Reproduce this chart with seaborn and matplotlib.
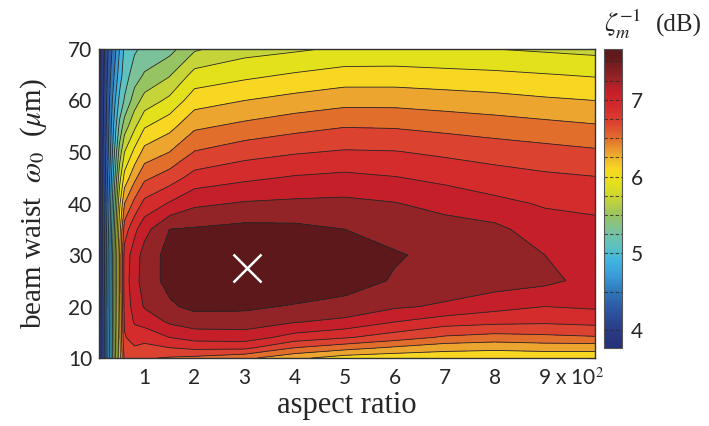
import numpy as np
import matplotlib
matplotlib.use("Agg")
import matplotlib.pyplot as plt
from matplotlib.colors import LinearSegmentedColormap, Normalize
from matplotlib.cm import ScalarMappable
from matplotlib.transforms import offset_copy
import seaborn as sns

# aspect ratio (in units of 10^2) and beam waist (um) of the sampling grid
aspect_ratio = [0.1, 0.2, 0.3, 0.4, 0.5, 0.6, 0.8, 1, 1.5, 2, 3, 4, 5, 6, 7, 8, 9, 10]
beam_waist = [10, 12, 14, 17, 20, 25, 30, 35, 40, 45, 50, 55, 60, 65, 70]

# inverse loss zeta_m^-1 in dB, one row per beam waist, one column per aspect ratio
zeta_db = [
    [3.80, 4.22, 4.78, 5.45, 6.10, 6.65, 6.65, 6.62, 6.58, 6.55, 6.45, 6.25, 6.10, 6.06, 6.06, 6.06, 6.06, 6.06],
    [3.79, 4.22, 4.78, 5.47, 6.12, 6.72, 6.78, 6.74, 6.80, 6.85, 6.85, 6.60, 6.48, 6.37, 6.28, 6.25, 6.28, 6.28],
    [3.78, 4.22, 4.78, 5.48, 6.14, 6.78, 6.90, 6.88, 7.00, 7.08, 7.10, 6.92, 6.82, 6.70, 6.57, 6.52, 6.55, 6.58],
    [3.78, 4.22, 4.77, 5.50, 6.16, 6.83, 7.02, 7.07, 7.23, 7.30, 7.30, 7.21, 7.15, 7.00, 6.89, 6.85, 6.83, 6.86],
    [3.77, 4.22, 4.76, 5.50, 6.18, 6.87, 7.08, 7.22, 7.37, 7.45, 7.44, 7.38, 7.33, 7.23, 7.17, 7.07, 7.00, 7.03],
    [3.77, 4.20, 4.75, 5.50, 6.20, 6.90, 7.12, 7.30, 7.46, 7.56, 7.65, 7.58, 7.50, 7.38, 7.33, 7.30, 7.25, 7.13],
    [3.77, 4.20, 4.74, 5.50, 6.20, 6.88, 7.10, 7.28, 7.47, 7.55, 7.66, 7.61, 7.54, 7.42, 7.34, 7.31, 7.20, 7.14],
    [3.77, 4.18, 4.70, 5.42, 6.10, 6.70, 6.95, 7.13, 7.40, 7.42, 7.46, 7.45, 7.40, 7.32, 7.29, 7.25, 7.09, 7.06],
    [3.77, 4.15, 4.65, 5.30, 5.95, 6.40, 6.66, 6.86, 7.02, 7.16, 7.22, 7.24, 7.25, 7.21, 7.13, 7.05, 6.98, 6.95],
    [3.77, 4.12, 4.58, 5.15, 5.72, 6.07, 6.35, 6.56, 6.70, 6.88, 6.96, 7.02, 7.05, 7.01, 6.95, 6.89, 6.84, 6.81],
    [3.77, 4.10, 4.50, 5.00, 5.48, 5.80, 6.05, 6.27, 6.40, 6.61, 6.72, 6.78, 6.82, 6.81, 6.76, 6.71, 6.67, 6.63],
    [3.77, 4.07, 4.45, 4.88, 5.25, 5.50, 5.76, 5.98, 6.13, 6.36, 6.45, 6.53, 6.59, 6.58, 6.54, 6.50, 6.46, 6.42],
    [3.77, 4.05, 4.40, 4.75, 5.05, 5.22, 5.50, 5.68, 5.85, 6.11, 6.20, 6.27, 6.33, 6.33, 6.30, 6.27, 6.23, 6.20],
    [3.77, 4.02, 4.34, 4.62, 4.90, 5.10, 5.30, 5.42, 5.58, 5.87, 5.95, 6.02, 6.08, 6.08, 6.06, 6.04, 6.01, 5.98],
    [3.77, 4.00, 4.28, 4.52, 4.80, 5.04, 5.17, 5.25, 5.33, 5.57, 5.72, 5.77, 5.83, 5.84, 5.82, 5.80, 5.77, 5.74],
]

# location of the optimum
best_ratio = 3.05
best_waist = 27.5

# contour levels and colorbar marks (dB)
line_levels = [3.8, 4.0, 4.2, 4.4, 4.6, 4.8, 5.0, 5.2, 5.4, 5.6, 5.8, 6.0, 6.2, 6.4, 6.6, 6.8, 7.0, 7.2, 7.4]
cbar_marks = [4.0, 4.5, 5.0, 5.25, 5.5, 5.75, 6.0, 6.25, 6.5, 6.75, 7.0, 7.25, 7.5]
cbar_ticks = [4, 5, 6, 7]

sns.set_theme(style="ticks")
plt.rcParams["font.family"] = ["Lato", "DejaVu Sans"]
plt.rcParams["mathtext.fontset"] = "stix"

Z = np.array(zeta_db)
X, Y = np.meshgrid(aspect_ratio, beam_waist)
zmin, zmax = float(Z.min()), float(Z.max())

anchor = [
    (3.77, "#25317a"), (3.9, "#28367f"), (4.1, "#2a4590"), (4.3, "#2d5aa5"),
    (4.5, "#3078bb"), (4.7, "#3a9ad5"), (4.9, "#3fb4e0"), (5.1, "#5ec2c0"),
    (5.3, "#7cc29a"), (5.5, "#98c460"), (5.7, "#c4d43a"), (5.9, "#e2e01c"),
    (6.1, "#f8d822"), (6.3, "#eca62e"), (6.5, "#e26e2c"), (6.7, "#dc4230"),
    (6.9, "#d42c2c"), (7.1, "#c8202a"), (7.3, "#942326"), (7.55, "#641a1d"),
    (7.66, "#5c181b"),
]
cmap = LinearSegmentedColormap.from_list(
    "zeta", [((v - zmin) / (zmax - zmin), c) for v, c in anchor])
norm = Normalize(vmin=zmin, vmax=zmax)

fig = plt.figure(figsize=(7.09, 4.26), dpi=100)
ax = fig.add_axes([0.1403, 0.1596, 0.6988, 0.7254])
cax = fig.add_axes([0.852, 0.183, 0.0254, 0.702])

fill_levels = [zmin - 0.2] + line_levels + [zmax + 0.2]
ax.contourf(X, Y, Z, levels=fill_levels, cmap=cmap, norm=norm)
ax.contour(X, Y, Z, levels=line_levels, colors="#262626", linewidths=0.6)
ax.plot([best_ratio], [best_waist], marker="x", color="white",
        markersize=20, markeredgewidth=1.8, linestyle="none")

ax.set_xlim(aspect_ratio[0], aspect_ratio[-1])
ax.set_ylim(beam_waist[0], beam_waist[-1])
ax.set_xticks([1, 2, 3, 4, 5, 6, 7, 8, 9])
ax.set_yticks([10, 20, 30, 40, 50, 60, 70])
ax.tick_params(direction="in", top=True, right=True, length=4, width=0.8,
               color="#333333", labelsize=15, pad=5)
ax.tick_params(axis="x", pad=7)
for s in ax.spines.values():
    s.set_color("#333333")
    s.set_linewidth(1.0)

trans = offset_copy(ax.get_xaxis_transform(), fig=fig, x=0, y=-7, units="points")
ax.text(9.2, 0, r"x 10$^2$", transform=trans, ha="left", va="top", fontsize=15)

ax.set_xlabel("aspect ratio", family="Liberation Serif", fontsize=22, labelpad=2)
ax.set_ylabel(r"beam waist  $\omega_0$  ($\mu$m)", family="Liberation Serif",
              fontsize=21, labelpad=14)

cb = fig.colorbar(ScalarMappable(norm=norm, cmap=cmap), cax=cax)
cb.set_ticks(cbar_ticks)
cb.outline.set_edgecolor("#555555")
cb.outline.set_linewidth(0.8)
cax.tick_params(length=0, labelsize=15, pad=6)
for m in cbar_marks:
    cax.axhline(m, color="#2a2a2a", linewidth=0.8, linestyle=(0, (3, 2)), alpha=0.8)

# colorbar title: symbol and unit
fig.text(604 / 709, 1 - 32 / 426, r"$\zeta_m^{-1}$", family="Liberation Serif",
         fontsize=19, ha="left", va="baseline")
fig.text(702 / 709, 1 - 32 / 426, "(dB)", family="Liberation Serif",
         fontsize=18, ha="right", va="baseline")

fig.savefig("out.png", dpi=100)
